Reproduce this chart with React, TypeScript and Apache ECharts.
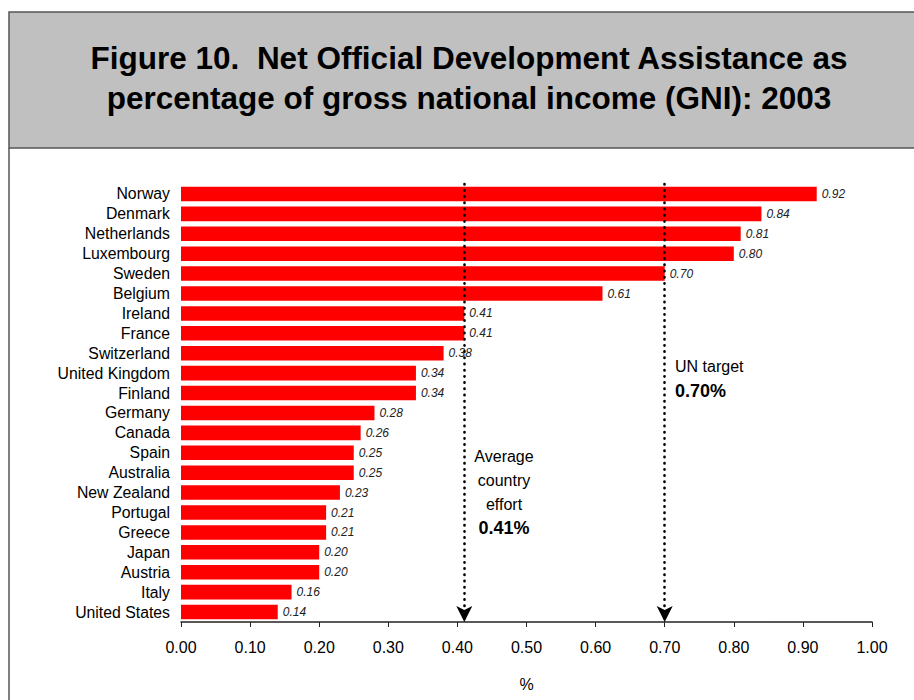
import React, { useEffect, useRef } from "react";
import * as echarts from "echarts";

const countries = [
  "Norway", "Denmark", "Netherlands", "Luxembourg", "Sweden", "Belgium",
  "Ireland", "France", "Switzerland", "United Kingdom", "Finland", "Germany",
  "Canada", "Spain", "Australia", "New Zealand", "Portugal", "Greece",
  "Japan", "Austria", "Italy", "United States",
];
const odaValues = [
  0.92, 0.84, 0.81, 0.8, 0.7, 0.61, 0.41, 0.41, 0.38, 0.34, 0.34, 0.28,
  0.26, 0.25, 0.25, 0.23, 0.21, 0.21, 0.2, 0.2, 0.16, 0.14,
];
const averageEffort = 0.41;
const unTarget = 0.7;
const titleLines = [
  "Figure 10.  Net Official Development Assistance as",
  "percentage of gross national income (GNI): 2003",
];
const averageText = ["Average", "country", "effort"];
const averageValueText = "0.41%";
const unText = "UN target";
const unValueText = "0.70%";

const FONT = "'Liberation Sans', Arial, Helvetica, sans-serif";

export default function App() {
  const ref = useRef<HTMLDivElement>(null);
  useEffect(() => {
    if (!ref.current) return;
    const chart = echarts.init(ref.current, null, { renderer: "svg" });
    const dotStyle = {
      color: "#000",
      width: 2.6,
      type: [0.4, 5.8],
      cap: "round",
    };
    chart.setOption({
      animation: false,
      textStyle: { fontFamily: FONT },
      grid: { left: 181, right: 42, top: 184, bottom: 78 },
      xAxis: {
        type: "value",
        min: 0,
        max: 1,
        interval: 0.1,
        name: "%",
        nameLocation: "middle",
        nameGap: 54,
        nameTextStyle: { fontSize: 16, color: "#000", fontFamily: FONT },
        axisLine: { show: true, lineStyle: { color: "#222", width: 1.5 } },
        axisTick: { show: true, length: 5, lineStyle: { color: "#222" } },
        splitLine: { show: false },
        axisLabel: {
          formatter: (v: number) => v.toFixed(2),
          fontSize: 16,
          color: "#000",
          margin: 17,
          fontFamily: FONT,
        },
      },
      yAxis: {
        type: "category",
        inverse: true,
        data: countries,
        axisLine: { show: false },
        axisTick: { show: false },
        axisLabel: {
          interval: 0,
          hideOverlap: false,
          fontSize: 15.8,
          color: "#000",
          margin: 11,
          fontFamily: FONT,
        },
      },
      series: [
        {
          type: "bar",
          data: odaValues,
          barCategoryGap: "27%",
          itemStyle: { color: "#FF0000" },
          label: {
            show: true,
            position: "right",
            distance: 5,
            formatter: (p: any) => Number(p.value).toFixed(2),
            fontStyle: "italic",
            fontSize: 12,
            color: "#222",
            fontFamily: FONT,
          },
          markLine: {
            silent: true,
            symbol: ["none", "arrow"],
            symbolSize: [12, 16],
            label: { show: false },
            lineStyle: dotStyle,
            data: [{ xAxis: averageEffort }, { xAxis: unTarget }],
          },
        },
      ],
      graphic: [
        {
          type: "rect",
          shape: { x: 9, y: 12, width: 940, height: 136 },
          style: { fill: "#C0C0C0", stroke: "#555", lineWidth: 1.5 },
        },
        {
          type: "line",
          shape: { x1: 9, y1: 148, x2: 9, y2: 710 },
          style: { stroke: "#555", lineWidth: 1.5 },
        },
        {
          type: "text",
          x: 469,
          y: 58,
          style: {
            text: titleLines[0],
            font: `bold 31.5px ${FONT}`,
            fill: "#000",
            align: "center",
            verticalAlign: "middle",
          },
        },
        {
          type: "text",
          x: 469,
          y: 98,
          style: {
            text: titleLines[1],
            font: `bold 31.5px ${FONT}`,
            fill: "#000",
            align: "center",
            verticalAlign: "middle",
          },
        },
        ...averageText.map((t, i) => ({
          type: "text",
          x: 504,
          y: 456 + i * 24,
          style: {
            text: t,
            font: `16px ${FONT}`,
            fill: "#000",
            align: "center",
            verticalAlign: "middle",
          },
        })),
        {
          type: "text",
          x: 504,
          y: 528,
          style: {
            text: averageValueText,
            font: `bold 18px ${FONT}`,
            fill: "#000",
            align: "center",
            verticalAlign: "middle",
          },
        },
        {
          type: "text",
          x: 675,
          y: 366,
          style: {
            text: unText,
            font: `16px ${FONT}`,
            fill: "#000",
            align: "left",
            verticalAlign: "middle",
          },
        },
        {
          type: "text",
          x: 675,
          y: 391,
          style: {
            text: unValueText,
            font: `bold 18px ${FONT}`,
            fill: "#000",
            align: "left",
            verticalAlign: "middle",
          },
        },
      ],
    });
    return () => chart.dispose();
  }, []);
  return (
    <div
      ref={ref}
      style={{ position: "absolute", left: 0, top: 0, width: 914, height: 700, background: "#fff" }}
    />
  );
}
